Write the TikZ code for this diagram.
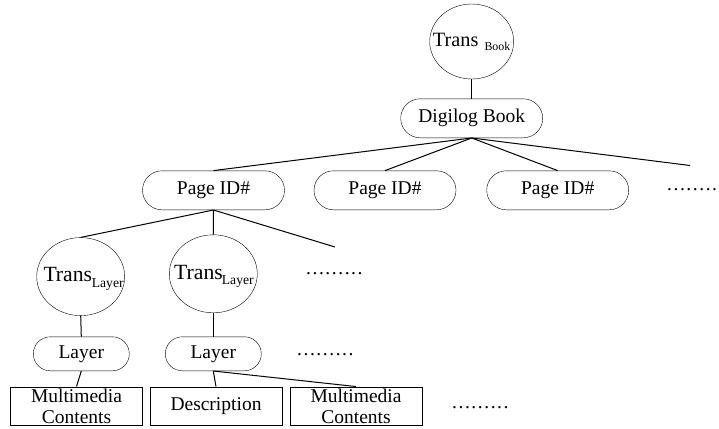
\documentclass[tikz,border=0pt]{standalone}
\usepackage{fontspec}
\setmainfont{Liberation Serif}
\usetikzlibrary{shapes.geometric,shapes.misc}
\newcommand{\fsz}[1]{\fontsize{#1}{#1}\selectfont}
\tikzset{
  x=1pt,y=-1pt,
  line width=1pt,
  lnk/.style={draw=black,line width=1pt},
  circ/.style={draw=black,ellipse,inner sep=0pt,minimum width=88pt,minimum height=78pt},
  pill/.style={draw=black,rounded rectangle,inner sep=0pt,font=\fsz{19.5},text=black},
  pagepill/.style={pill,minimum width=142pt,minimum height=39pt},
  layerpill/.style={pill,minimum width=96pt,minimum height=34pt},
  cbox/.style={draw=black,rectangle,inner sep=0pt,minimum width=132pt,minimum height=38.5pt,font=\fsz{19.5},text=black,align=center},
  lbl/.style={anchor=base west,inner sep=0pt,text=black},
  dotted text/.style={anchor=base west,inner sep=0pt,font={\fsz{19.5}\addfontfeature{LetterSpace=8}},text=black}
}
\begin{document}
\begin{tikzpicture}
\useasboundingbox (0,0) rectangle (719,428);
% top
\node[circ,minimum width=84pt,minimum height=75pt] (book) at (471.7,41.5) {};
\node[lbl,font=\fsz{20.3}] (booktxt) at (432.7,46.5) {Trans};
\node[lbl,font=\fsz{11.9}] (booksub) at (484.3,50.7) {Book};
\node[pagepill] (digilog) at (471.7,118.3) {Digilog Book};
\node[pagepill] (p1) at (213.5,190.3) {Page ID\#};
\node[pagepill] (p2) at (385,190.3) {Page ID\#};
\node[pagepill] (p3) at (557.7,190.3) {Page ID\#};
\coordinate (pfree) at (690,165.5);
\draw[lnk] (book.south) -- (digilog.north);
\draw[lnk] (digilog.south) -- (p1.north);
\draw[lnk] (digilog.south) -- (p2.north);
\draw[lnk] (digilog.south) -- (p3.north);
\draw[lnk] (digilog.south) -- (pfree);
\node[dotted text] (dots1) at (667,190) {........};
% layers
\node[circ] (t1) at (80.7,276.6) {};
\node[lbl,font=\fsz{21.7}] (t1a) at (43.3,281.7) {Trans};
\node[lbl,font=\fsz{13.6}] (t1b) at (91.7,287.3) {Layer};
\node[circ] (t2) at (213.3,273.8) {};
\node[lbl,font=\fsz{21.7}] (t2a) at (174,279.3) {Trans};
\node[lbl,font=\fsz{13.6}] (t2b) at (221.7,284) {Layer};
\coordinate (tfree) at (335,247);
\draw[lnk] (p1.south) -- (t1.north);
\draw[lnk] (p1.south) -- (t2.north);
\draw[lnk] (p1.south) -- (tfree);
\node[dotted text] (dots2) at (306,274) {.........};
\node[layerpill] (l1) at (81.3,353.8) {Layer};
\node[layerpill] (l2) at (213.3,353.8) {Layer};
\draw[lnk] (t1.south) -- (l1.north);
\draw[lnk] (t2.south) -- (l2.north);
\node[dotted text] (dots3) at (297,355) {.........};
\node[cbox] (b1) at (76.5,406) {Multimedia\\[1.5pt]Contents};
\node[cbox] (b2) at (216,406) {Description};
\node[cbox] (b3) at (356,406) {Multimedia\\[1.5pt]Contents};
\draw[lnk] (l1.south) -- (b1.north);
\draw[lnk] (l2.south) -- (b2.north);
\draw[lnk] (l2.south) -- (b3.north);
\node[dotted text] (dots4) at (452,408) {.........};
\end{tikzpicture}
\end{document}
